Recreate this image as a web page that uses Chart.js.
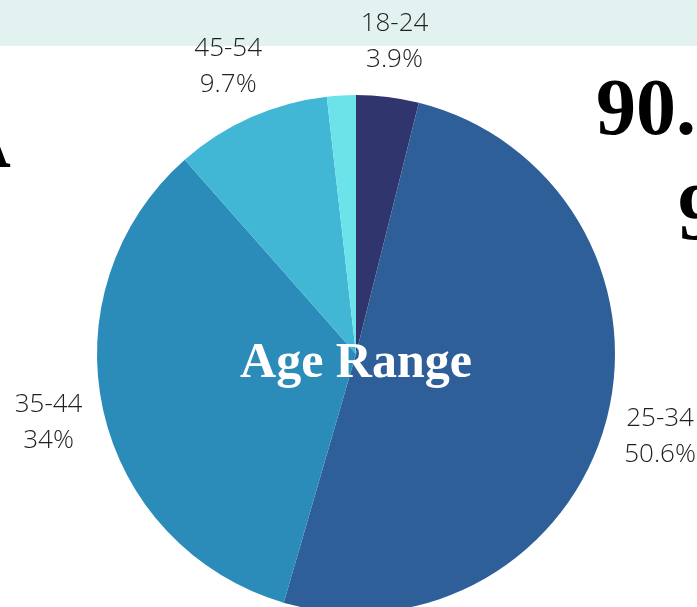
<!DOCTYPE html>
<html>
<head>
<meta charset="utf-8">
<script src="https://cdn.jsdelivr.net/npm/chart.js@4/dist/chart.umd.min.js"></script>
<style>
    html, body {
        margin: 0;
        padding: 0;
        width: 697px;
        height: 607px;
        overflow: hidden;
        background: #ffffff;
    }
    .band {
        position: absolute;
        left: 0;
        top: 0;
        width: 697px;
        height: 46px;
        background: #e1f2f1;
    }
    .decor {
        position: absolute;
        font-family: 'Liberation Serif', 'DejaVu Serif', serif;
        font-weight: bold;
        font-size: 80px;
        line-height: 1;
        color: #000;
        white-space: nowrap;
    }
    #ageChart {
        position: absolute;
        left: 0;
        top: 0;
    }
</style>
</head>
<body>
<div class="band"></div>
<div class="decor" style="left:596px; top:67px;">90.</div>
<div class="decor" style="left:678px; top:172px;">9</div>
<div class="decor" style="left:-47px; top:100px;">A</div>
<canvas id="ageChart" width="697" height="700"></canvas>

<script>
// Age range share (%)
const ageLabels = ['18-24', '25-34', '35-44', '45-54', '55+'];
const ageValues = [3.9, 50.6, 34, 9.7, 1.8];
const ageColors = ['#31356e', '#2e5f99', '#2b8cba', '#42b7d5', '#6be3e8'];

// Labels outside the pie, two lines each (small slices are left unlabeled)
const outsideLabels = {
    id: 'outsideLabels',
    afterDatasetsDraw(chart) {
        const ctx = chart.ctx;
        const meta = chart.getDatasetMeta(0);
        ctx.save();
        ctx.font = "300 26px 'Open Sans', sans-serif";
        ctx.fillStyle = '#1f1f1f';
        ctx.textAlign = 'center';
        ctx.textBaseline = 'middle';
        meta.data.forEach(function(arc, i) {
            const value = ageValues[i];
            if (value < 2) return;
            const angle = (arc.startAngle + arc.endAngle) / 2;
            const r = arc.outerRadius + 56;
            const x = arc.x + Math.cos(angle) * r;
            const y = arc.y + Math.sin(angle) * r;
            ctx.fillText(ageLabels[i], x, y - 18);
            ctx.fillText(value + '%', x, y + 18);
        });

        // Title in the middle of the pie
        const first = meta.data[0];
        ctx.font = "bold 50px 'Liberation Serif', 'DejaVu Serif', serif";
        ctx.fillStyle = '#ffffff';
        ctx.textBaseline = 'alphabetic';
        ctx.fillText('Age Range', first.x, first.y + 23);
        ctx.restore();
    }
};

new Chart(document.getElementById('ageChart'), {
    type: 'pie',
    data: {
        labels: ageLabels,
        datasets: [{
            data: ageValues,
            backgroundColor: ageColors,
            borderWidth: 0
        }]
    },
    options: {
        responsive: false,
        animation: false,
        layout: {
            padding: { left: 97, right: 82, top: 95, bottom: 87 }
        },
        plugins: {
            legend: { display: false },
            tooltip: { enabled: false }
        }
    },
    plugins: [outsideLabels]
});
</script>
</body>
</html>
